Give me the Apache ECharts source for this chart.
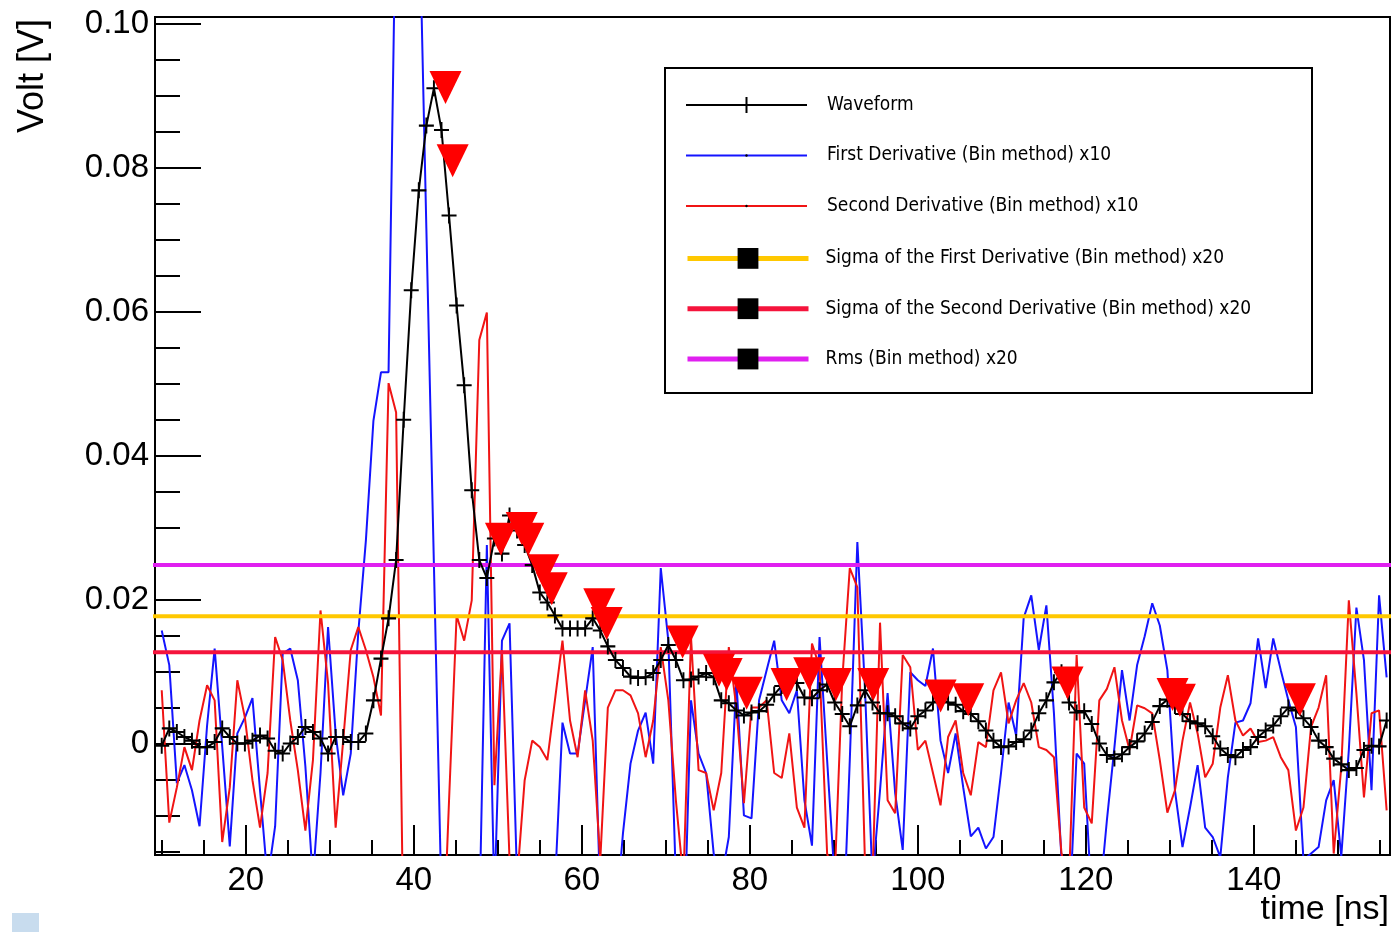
<!DOCTYPE html>
<html>
<head>
<meta charset="utf-8">
<script src="https://cdn.jsdelivr.net/npm/echarts@6.0.0/dist/echarts.min.js"></script>
<style>
html,body{margin:0;padding:0;background:#fff;}
#chart{width:1391px;height:932px;}
</style>
</head>
<body>
<div id="chart"></div>
<script>
// ---------------- data ----------------
const time = [
10.0,10.9,11.8,12.7,13.6,14.5,15.4,16.3,17.2,18.1,
19.0,19.9,20.8,21.7,22.6,23.5,24.4,25.3,26.2,27.1,
28.0,28.9,29.8,30.7,31.6,32.5,33.4,34.3,35.2,36.1,
37.0,37.9,38.8,39.7,40.6,41.5,42.4,43.3,44.2,45.1,
46.0,46.9,47.8,48.7,49.6,50.5,51.4,52.3,53.2,54.1,
55.0,55.9,56.8,57.7,58.6,59.5,60.4,61.3,62.2,63.1,
64.0,64.9,65.8,66.7,67.6,68.5,69.4,70.3,71.2,72.1,
73.0,73.9,74.8,75.7,76.6,77.5,78.4,79.3,80.2,81.1,
82.0,82.9,83.8,84.7,85.6,86.5,87.4,88.3,89.2,90.1,
91.0,91.9,92.8,93.7,94.6,95.5,96.4,97.3,98.2,99.1,
100.0,100.9,101.8,102.7,103.6,104.5,105.4,106.3,107.2,108.1,
109.0,109.9,110.8,111.7,112.6,113.5,114.4,115.3,116.2,117.1,
118.0,118.9,119.8,120.7,121.6,122.5,123.4,124.3,125.2,126.1,
127.0,127.9,128.8,129.7,130.6,131.5,132.4,133.3,134.2,135.1,
136.0,136.9,137.8,138.7,139.6,140.5,141.4,142.3,143.2,144.1,
145.0,145.9,146.8,147.7,148.6,149.5,150.4,151.3,152.2,153.1,
154.0,154.9,155.8
];

const waveform = [
-0.0003,0.0021,0.0016,0.0009,0.0004,-0.0005,-0.0005,0.0002,0.0021,0.0009,
0.0000,0.0000,0.0004,0.0011,0.0007,-0.0010,-0.0014,0.0000,0.0009,0.0023,
0.0016,0.0007,-0.0014,0.0009,0.0009,0.0002,0.0002,0.0014,0.0060,0.0118,
0.0174,0.0255,0.0450,0.0630,0.0769,0.0859,0.0911,0.0853,0.0734,0.0609,
0.0498,0.0352,0.0255,0.0230,0.0285,0.0264,0.0317,0.0296,0.0276,0.0248,
0.0210,0.0196,0.0178,0.0160,0.0160,0.0160,0.0160,0.0174,0.0157,0.0135,
0.0116,0.0105,0.0093,0.0091,0.0092,0.0098,0.0116,0.0137,0.0116,0.0088,
0.0089,0.0093,0.0098,0.0092,0.0060,0.0056,0.0046,0.0039,0.0043,0.0045,
0.0054,0.0068,0.0080,0.0084,0.0084,0.0064,0.0063,0.0074,0.0082,0.0057,
0.0041,0.0024,0.0053,0.0074,0.0057,0.0042,0.0042,0.0038,0.0028,0.0021,
0.0038,0.0046,0.0057,0.0063,0.0057,0.0054,0.0045,0.0041,0.0031,0.0018,
0.0004,-0.0005,-0.0004,0.0002,0.0006,0.0018,0.0042,0.0060,0.0085,0.0099,
0.0057,0.0043,0.0045,0.0027,0.0000,-0.0016,-0.0021,-0.0015,-0.0005,0.0003,
0.0014,0.0030,0.0052,0.0061,0.0052,0.0041,0.0031,0.0028,0.0024,0.0010,
-0.0007,-0.0016,-0.0019,-0.0009,-0.0005,0.0009,0.0018,0.0025,0.0038,0.0050,
0.0046,0.0035,0.0023,0.0004,-0.0005,-0.0021,-0.0029,-0.0037,-0.0034,-0.0009,
-0.0003,-0.0004,0.0032
];

const firstDerivative = [
0.0157,0.0109,-0.0055,-0.0030,-0.0065,-0.0115,0.0025,0.0132,-0.0004,-0.0143,
0.0014,0.0036,0.0063,-0.0065,-0.0190,-0.0115,0.0125,0.0132,0.0088,-0.0032,
-0.0190,-0.0041,0.0162,0.0014,-0.0072,-0.0014,0.0155,0.0282,0.0449,0.0516,
0.0516,0.1200,0.2000,0.2300,0.1190,0.0716,0.0248,-0.0220,-0.0600,-0.0450,
-0.0300,-0.0300,-0.0250,0.0276,-0.0218,0.0143,0.0167,-0.0190,-0.0300,-0.0300,
-0.0250,-0.0300,-0.0200,0.0029,-0.0014,-0.0014,0.0060,0.0134,-0.0218,-0.0300,
-0.0250,-0.0125,-0.0028,0.0018,0.0043,-0.0028,0.0244,0.0143,-0.0190,-0.0300,
0.0060,-0.0014,-0.0041,-0.0153,-0.0190,-0.0130,0.0088,-0.0100,-0.0104,0.0060,
0.0102,0.0143,0.0060,0.0042,0.0074,-0.0079,-0.0142,0.0148,-0.0023,-0.0190,
-0.0300,-0.0023,0.0280,0.0078,-0.0190,-0.0065,0.0070,-0.0069,-0.0148,0.0099,
0.0088,0.0080,0.0132,0.0004,-0.0041,0.0014,-0.0061,-0.0129,-0.0117,-0.0146,
-0.0130,-0.0041,0.0057,0.0011,0.0175,0.0206,0.0130,0.0192,0.0042,-0.0162,
-0.0250,-0.0014,-0.0028,-0.0220,-0.0220,-0.0107,-0.0005,0.0102,0.0032,0.0109,
0.0149,0.0195,0.0164,0.0102,-0.0065,-0.0144,-0.0089,-0.0030,-0.0117,-0.0130,
-0.0158,-0.0047,0.0029,0.0032,0.0056,0.0146,0.0077,0.0146,0.0102,0.0060,
0.0023,-0.0162,-0.0153,-0.0144,-0.0079,-0.0051,-0.0157,-0.0009,0.0189,0.0116,
-0.0065,0.0206,0.0092
];

const secondDerivative = [
0.0074,-0.0110,-0.0061,-0.0005,-0.0037,0.0032,0.0081,0.0060,-0.0137,-0.0061,
0.0088,0.0036,-0.0051,-0.0117,-0.0041,0.0148,0.0116,0.0032,-0.0037,-0.0121,
-0.0023,0.0185,0.0084,-0.0117,0.0004,0.0130,0.0162,0.0130,0.0092,0.0039,
0.0501,0.0460,-0.0300,-0.0600,-0.0700,-0.0600,-0.0500,-0.0350,-0.0079,0.0178,
0.0143,0.0199,0.0561,0.0599,-0.0058,0.0130,-0.0162,-0.0190,-0.0051,0.0004,
-0.0005,-0.0023,0.0060,0.0143,0.0032,-0.0019,0.0074,0.0004,-0.0162,0.0050,
0.0074,0.0074,0.0067,0.0042,-0.0019,0.0032,0.0134,0.0060,-0.0079,-0.0190,
0.0148,-0.0037,-0.0041,-0.0093,-0.0041,0.0134,0.0050,-0.0083,0.0050,0.0050,
0.0060,-0.0041,-0.0048,0.0014,-0.0089,-0.0117,0.0139,0.0106,-0.0153,-0.0190,
0.0088,0.0244,0.0217,-0.0162,-0.0190,0.0168,-0.0079,-0.0097,0.0123,0.0106,
-0.0009,0.0004,-0.0041,-0.0086,0.0009,0.0032,-0.0041,-0.0072,0.0002,-0.0005,
0.0074,0.0099,0.0028,0.0060,0.0084,0.0057,-0.0005,-0.0009,-0.0019,-0.0153,
-0.0190,0.0123,-0.0089,-0.0111,0.0060,0.0076,0.0106,0.0032,-0.0009,0.0053,
0.0049,0.0042,-0.0023,-0.0096,-0.0065,0.0004,0.0057,0.0014,-0.0047,-0.0028,
0.0050,0.0095,0.0032,0.0011,0.0021,0.0002,0.0004,0.0009,-0.0019,-0.0037,
-0.0121,-0.0089,0.0023,0.0050,0.0095,-0.0153,-0.0033,0.0199,0.0070,-0.0075,
0.0042,0.0046,-0.0093
];

// found peaks (red down-triangles)
const peakTimes  = [43.78,44.63,50.38,52.85,53.63,55.42,56.42,62.08,62.96,72.00,76.33,77.24,79.62,84.38,87.07,90.25,94.69,102.71,106.00,117.82,130.32,131.19,145.47];
const peakValues = [0.0912,0.0810,0.0284,0.0299,0.0284,0.0240,0.0215,0.0193,0.0167,0.0141,0.0102,0.0096,0.0070,0.0082,0.0097,0.0082,0.0082,0.0066,0.0061,0.0084,0.0068,0.0060,0.0061];

// horizontal threshold levels
const sigmaFirstLevel  = 0.0177;
const sigmaSecondLevel = 0.0127;
const rmsLevel         = 0.0248;
const levelSpan        = [0.8, 157.5];

// tick values / labels
const xMajorTicks = [20,40,60,80,100,120,140];
const xMinorTicks = [10,15,25,30,35,45,50,55,65,70,75,85,90,95,105,110,115,125,130,135,145,150,155];
const yMajorTicks = [0,0.02,0.04,0.06,0.08,0.1];
const yMinorTicks = [-0.015,-0.01,-0.005,0.005,0.01,0.015,0.025,0.03,0.035,0.045,0.05,0.055,0.065,0.07,0.075,0.085,0.09,0.095];

const names = {
  wave: 'Waveform',
  d1: 'First Derivative (Bin method) x10',
  d2: 'Second Derivative (Bin method) x10',
  s1: 'Sigma of the First Derivative (Bin method) x20',
  s2: 'Sigma of the Second Derivative (Bin method) x20',
  rms: 'Rms (Bin method) x20'
};

// ---------------- chart ----------------
const FONT = "'Liberation Sans', Arial, Helvetica, sans-serif";
const NARROW = "'Liberation Sans Narrow', 'Arial Narrow', 'DejaVu Sans Condensed', 'Liberation Sans', sans-serif";
const X_MIN = 9.2, X_MAX = 156.2, Y_MIN = -0.0155, Y_MAX = 0.101;

const pairs = arr => time.map((t, i) => [t, arr[i]]);
const level = v => levelSpan.map(x => [x, v]);

const chart = echarts.init(document.getElementById('chart'), null, {renderer: 'canvas'});

const legendText = {fontFamily: NARROW, fontSize: 19, color: '#000', lineHeight: 20, padding: [0, 0, 0, 15]};
const legendTextC = {fontFamily: NARROW, fontSize: 19, color: '#000', lineHeight: 20, padding: [0, 0, 0, 12]};

const option = {
  animation: false,
  backgroundColor: '#fff',
  grid: {left: 155, top: 17, width: 1235, height: 838, show: true, borderColor: '#000', borderWidth: 2, backgroundColor: 'transparent'},
  xAxis: [
    {
      type: 'value', min: X_MIN, max: X_MAX, position: 'bottom',
      axisLine: {show: true, onZero: false, lineStyle: {color: '#000', width: 2}},
      axisTick: {show: true, inside: true, length: 30, lineStyle: {color: '#000', width: 2}, customValues: xMajorTicks},
      axisLabel: {show: true, customValues: xMajorTicks, color: '#000', fontFamily: FONT, fontSize: 33, margin: 9},
      splitLine: {show: false}
    },
    {
      type: 'value', min: X_MIN, max: X_MAX, position: 'bottom',
      axisLine: {show: false, onZero: false},
      axisTick: {show: true, inside: true, length: 15, lineStyle: {color: '#000', width: 2}, customValues: xMinorTicks},
      axisLabel: {show: false},
      splitLine: {show: false}
    }
  ],
  yAxis: [
    {
      type: 'value', min: Y_MIN, max: Y_MAX, position: 'left',
      axisLine: {show: true, onZero: false, lineStyle: {color: '#000', width: 2}},
      axisTick: {show: true, inside: true, length: 46, lineStyle: {color: '#000', width: 2}, customValues: yMajorTicks},
      axisLabel: {show: true, customValues: yMajorTicks, color: '#000', fontFamily: FONT, fontSize: 33, margin: 6,
        formatter: v => (Math.abs(v) < 1e-9 ? '0' : v.toFixed(2))},
      splitLine: {show: false}
    },
    {
      type: 'value', min: Y_MIN, max: Y_MAX, position: 'left',
      axisLine: {show: false, onZero: false},
      axisTick: {show: true, inside: true, length: 25, lineStyle: {color: '#000', width: 2}, customValues: yMinorTicks},
      axisLabel: {show: false},
      splitLine: {show: false}
    }
  ],
  legend: [
    {
      data: [names.wave], orient: 'vertical', left: 685, top: 95, padding: 0, itemWidth: 121, itemHeight: 20, itemGap: 0,
      selectedMode: false, textStyle: legendText, z: 20,
      itemStyle: {color: '#000', borderColor: '#000', borderWidth: 2},
      lineStyle: {width: 2}
    },
    {
      data: [names.d1, names.d2], orient: 'vertical', left: 685, top: 145.5, padding: 0, itemWidth: 121, itemHeight: 3, itemGap: 30.5,
      selectedMode: false, textStyle: legendText, z: 20,
      itemStyle: {color: '#000', borderWidth: 0},
      lineStyle: {width: 2}
    },
    {
      data: [names.s1, names.s2, names.rms], orient: 'vertical', left: 685, top: 248, padding: 0, itemWidth: 121, itemHeight: 26, itemGap: 29.5,
      selectedMode: false, textStyle: legendTextC, z: 20,
      itemStyle: {color: '#000', borderWidth: 0},
      lineStyle: {width: 5}
    }
  ],
  graphic: [
    {type: 'rect', z: 15, shape: {x: 665, y: 68, width: 647, height: 325}, style: {fill: '#fff', stroke: '#000', lineWidth: 2}},
    {type: 'text', x: 33, y: 19, rotation: Math.PI / 2, z: 20,
      style: {text: 'Volt [V]', fontFamily: FONT, fontSize: 36, fill: '#000', align: 'right', verticalAlign: 'middle'}},
    {type: 'text', x: 1389, y: 910, z: 20,
      style: {text: 'time [ns]', fontFamily: FONT, fontSize: 34, fill: '#000', align: 'right', verticalAlign: 'middle'}},
    {type: 'rect', z: 1, shape: {x: 12, y: 913, width: 27, height: 19}, style: {fill: '#c8dcee'}}
  ],
  series: [
    {
      name: names.d1, type: 'line', data: pairs(firstDerivative), showSymbol: false, symbol: 'circle', symbolSize: 2,
      itemStyle: {color: '#000'}, lineStyle: {color: '#1414ff', width: 2}, z: 2, clip: true
    },
    {
      name: names.d2, type: 'line', data: pairs(secondDerivative), showSymbol: false, symbol: 'circle', symbolSize: 2,
      itemStyle: {color: '#000'}, lineStyle: {color: '#f01414', width: 2}, z: 3, clip: true
    },
    {
      name: names.s1, type: 'line', data: level(sigmaFirstLevel), showSymbol: false, symbol: 'rect',
      itemStyle: {color: '#000'}, lineStyle: {color: '#ffc800', width: 4}, z: 4, clip: false
    },
    {
      name: names.s2, type: 'line', data: level(sigmaSecondLevel), showSymbol: false, symbol: 'rect',
      itemStyle: {color: '#000'}, lineStyle: {color: '#f5143c', width: 4}, z: 4, clip: false
    },
    {
      name: names.rms, type: 'line', data: level(rmsLevel), showSymbol: false, symbol: 'rect',
      itemStyle: {color: '#000'}, lineStyle: {color: '#e020f0', width: 4}, z: 4, clip: false
    },
    {
      name: names.wave, type: 'line', data: pairs(waveform), showSymbol: true, showAllSymbol: true,
      symbol: 'path://M0,7 L14,7 M7,0 L7,14', symbolSize: [15, 16],
      itemStyle: {color: 'rgba(0,0,0,0)', borderColor: '#000', borderWidth: 2},
      lineStyle: {color: '#000', width: 2}, z: 5, clip: true
    },
    {
      name: 'peaks', type: 'scatter', data: peakTimes.map((t, i) => [t, peakValues[i]]),
      symbol: 'triangle', symbolRotate: 180, symbolSize: [32, 33],
      itemStyle: {color: '#ff0000', opacity: 1}, z: 6
    }
  ]
};

chart.setOption(option);
</script>
</body>
</html>
